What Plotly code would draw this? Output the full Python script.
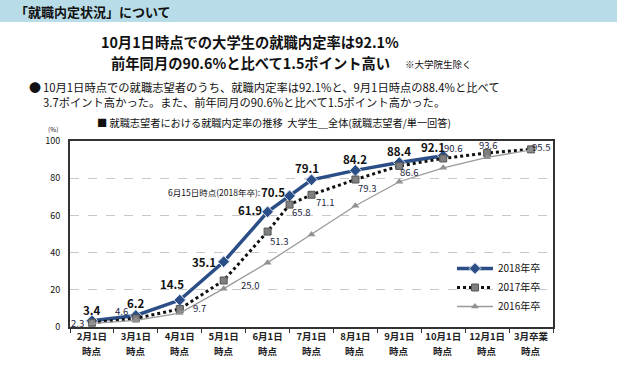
import plotly.graph_objects as go

# ---------------- data ----------------
categories = ["2月1日", "3月1日", "4月1日", "5月1日", "6月1日",
              "7月1日", "8月1日", "9月1日", "10月1日", "12月1日", "3月卒業"]
category_suffix = "時点"
cat_keys = ["2/1", "3/1", "4/1", "5/1", "6/1", "7/1", "8/1", "9/1", "10/1", "12/1", "3/grad"]

pts_2018 = ["2/1", "3/1", "4/1", "5/1", "6/1", "6/15", "7/1", "8/1", "9/1", "10/1"]
val_2018 = [3.4, 6.2, 14.5, 35.1, 61.9, 70.5, 79.1, 84.2, 88.4, 92.1]

pts_2017 = ["2/1", "3/1", "4/1", "5/1", "6/1", "6/15", "7/1", "8/1", "9/1", "10/1", "12/1", "3/grad"]
val_2017 = [2.3, 4.6, 9.7, 25.0, 51.3, 65.8, 71.1, 79.3, 86.6, 90.6, 93.6, 95.5]

pts_2016 = ["2/1", "3/1", "4/1", "5/1", "6/1", "7/1", "8/1", "9/1", "10/1", "12/1", "3/grad"]
val_2016 = [2.0, 3.6, 7.5, 20.6, 34.6, 49.7, 65.2, 78.1, 85.6, 91.2, 95.2]

y_ticks = [0, 20, 40, 60, 80, 100]

# position of each observation date on the category axis
xpos = {k: i for i, k in enumerate(cat_keys)}
xpos["6/15"] = (xpos["6/1"] + xpos["7/1"]) / 2

# ---------------- layout helpers ----------------
W, H = 617, 366
L, R, T, B = 70, 553, 141, 327


def px(x):
    return (x - L) / (R - L)


def py(y):
    return (B - y) / (B - T)


NAVY = "#2A4E85"
FONT = "Noto Sans CJK JP"

fig = go.Figure()

fig.add_trace(go.Scatter(
    x=[xpos[k] for k in pts_2018], y=val_2018, name="2018年卒", mode="lines+markers",
    line=dict(color=NAVY, width=3.5),
    marker=dict(symbol="diamond", size=9, color=NAVY, line=dict(color="#dfe6f0", width=1)),
))
fig.add_trace(go.Scatter(
    x=[xpos[k] for k in pts_2017], y=val_2017, name="2017年卒", mode="lines+markers",
    line=dict(color="#111111", width=3, dash="dot"),
    marker=dict(symbol="square", size=7, color="#7f7f7f", line=dict(color="#555555", width=1)),
))
fig.add_trace(go.Scatter(
    x=[xpos[k] for k in pts_2016], y=val_2016, name="2016年卒", mode="lines+markers",
    line=dict(color="#9a9a9a", width=1.3),
    marker=dict(symbol="triangle-up", size=7, color="#909090"),
))

annotations = []

# 2018 labels (bold, above)
off_2018 = [(0, -11), (0, -12), (-8, -16), (-20, 0), (-18, -2), (-17, -4), (-5, -12), (0, -11), (0, -12), (-10, -9)]
for k, v, (dx, dy) in zip(pts_2018, val_2018, off_2018):
    annotations.append(dict(x=xpos[k], y=v, xref="x", yref="y", text=f"<b>{v:.1f}</b>",
                            showarrow=False, xshift=dx, yshift=-dy,
                            font=dict(family=FONT, size=11.5, color="#111")))

# 2017 labels (regular)
off_2017 = [(-14, 0), (-14, -7), (20, -1), (26, 4), (11, 9), (11, 7), (13, 7), (12, 8), (10, 6), (10, -10), (1, -8), (10, -2)]
for k, v, (dx, dy) in zip(pts_2017, val_2017, off_2017):
    annotations.append(dict(x=xpos[k], y=v, xref="x", yref="y", text=f"{v:.1f}",
                            showarrow=False, xshift=dx, yshift=-dy,
                            font=dict(family=FONT, size=9.5, color="#1c2440")))

# second line of the category labels ("時点")
for i in range(len(categories)):
    annotations.append(dict(x=i, y=py(351), xref="x", yref="paper", xanchor="center", yanchor="middle",
                            text=category_suffix, showarrow=False,
                            font=dict(family=FONT, size=9.5, color="#222", weight="bold")))

# 6/15 note
annotations.append(dict(x=px(262), y=py(192), xref="paper", yref="paper", xanchor="right", yanchor="middle",
                        text="6月15日時点(2018年卒):", showarrow=False,
                        font=dict(family=FONT, size=8.5, color="#111")))

# (%) unit
annotations.append(dict(x=px(53), y=py(129), xref="paper", yref="paper", xanchor="center", yanchor="middle",
                        text="(%)", showarrow=False, font=dict(family=FONT, size=6.5, color="#111")))

# header texts
annotations += [
    dict(x=px(13), y=py(11), xref="paper", yref="paper", xanchor="left", yanchor="middle",
         text="<b>「就職内定状況」について</b>", showarrow=False,
         font=dict(family=FONT, size=13, color="#111")),
    dict(x=px(250), y=py(41), xref="paper", yref="paper", xanchor="center", yanchor="middle",
         text="<b>10月1日時点での大学生の就職内定率は92.1%</b>", showarrow=False,
         font=dict(family=FONT, size=14.3, color="#111")),
    dict(x=px(250), y=py(63), xref="paper", yref="paper", xanchor="center", yanchor="middle",
         text="<b>前年同月の90.6%と比べて1.5ポイント高い</b>", showarrow=False,
         font=dict(family=FONT, size=14.3, color="#111")),
    dict(x=px(403), y=py(64), xref="paper", yref="paper", xanchor="left", yanchor="middle",
         text="※大学院生除く", showarrow=False,
         font=dict(family=FONT, size=9.5, color="#111")),
    dict(x=px(27), y=py(87), xref="paper", yref="paper", xanchor="left", yanchor="middle",
         text="●", showarrow=False, font=dict(family=FONT, size=12, color="#111")),
    dict(x=px(41), y=py(87), xref="paper", yref="paper", xanchor="left", yanchor="middle",
         text="10月1日時点での就職志望者のうち、就職内定率は92.1%と、9月1日時点の88.4%と比べて",
         showarrow=False, font=dict(family=FONT, size=11.3, color="#111")),
    dict(x=px(41), y=py(102), xref="paper", yref="paper", xanchor="left", yanchor="middle",
         text="3.7ポイント高かった。また、前年同月の90.6%と比べて1.5ポイント高かった。",
         showarrow=False, font=dict(family=FONT, size=11.3, color="#111")),
    dict(x=px(95), y=py(122), xref="paper", yref="paper", xanchor="left", yanchor="middle",
         text="■ 就職志望者における就職内定率の推移  大学生＿全体(就職志望者/単一回答)",
         showarrow=False, font=dict(family=FONT, size=10.2, color="#111")),
]

shapes = [
    dict(type="rect", xref="paper", yref="paper", x0=px(0), x1=px(W), y0=py(22), y1=py(0),
         fillcolor="#B8DDE8", line=dict(width=0), layer="below"),
]

fig.update_layout(
    width=W, height=H,
    margin=dict(l=L, r=W - R, t=T, b=H - B, autoexpand=False),
    paper_bgcolor="white", plot_bgcolor="white",
    font=dict(family=FONT, color="#111"),
    showlegend=True,
    legend=dict(x=px(452), y=py(254), xanchor="left", yanchor="top",
                bgcolor="rgba(0,0,0,0)", font=dict(family=FONT, size=10, color="#111"),
                itemwidth=36, tracegroupgap=0),
    annotations=annotations,
    shapes=shapes,
    xaxis=dict(
        range=[-0.5, len(categories) - 0.5], automargin=False,
        tickvals=list(range(len(categories))), ticktext=categories,
        ticks="", showgrid=False, zeroline=False,
        showline=True, linecolor="#333", linewidth=2, mirror=True,
        tickfont=dict(family=FONT, size=9.5, color="#222", weight="bold"),
        minor=dict(tickvals=[i - 0.5 for i in range(len(categories) + 1)], ticks="outside",
                   ticklen=4, tickcolor="#333", tickwidth=1, showgrid=False),
        fixedrange=True,
    ),
    yaxis=dict(
        range=[0, 100], tickvals=y_ticks, ticks="", automargin=False,
        showgrid=True, gridcolor="#c8c8c8", griddash="dash", gridwidth=1,
        zeroline=False, showline=True, linecolor="#333", linewidth=2, mirror=True,
        tickfont=dict(family=FONT, size=9, color="#111"), ticklabelstandoff=6,
        fixedrange=True,
    ),
)

fig.write_html("out.html", config={"displayModeBar": False},
               post_script="document.body.style.margin='0';document.body.style.padding='0';")
